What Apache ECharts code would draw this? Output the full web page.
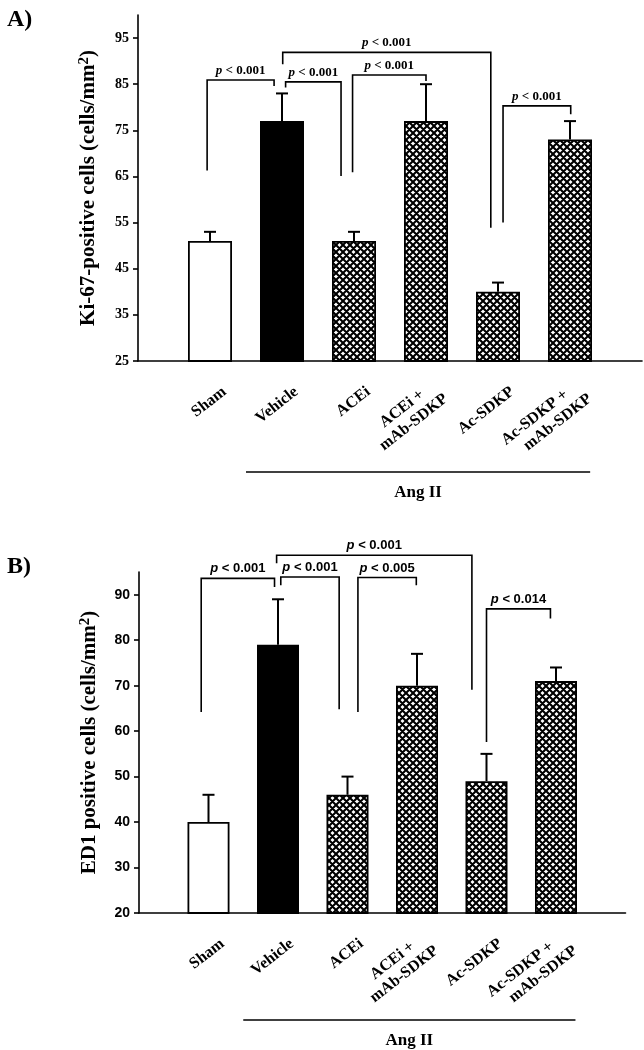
<!DOCTYPE html>
<html><head><meta charset="utf-8">
<script src="https://cdn.jsdelivr.net/npm/echarts@6/dist/echarts.min.js"></script>
<style>html,body{margin:0;padding:0;background:#fff}#c{width:644px;height:1050px}</style>
</head><body><div id="c"></div>
<script>
// ---------- data ----------
const categories = ['Sham', 'Vehicle', 'ACEi', 'ACEi +\nmAb-SDKP', 'Ac-SDKP', 'Ac-SDKP +\nmAb-SDKP'];
const ki67Mean = [51, 77, 51, 77, 40, 73];
const ki67Err  = [2, 6, 2, 8, 2, 4];
const ed1Mean  = [40, 79, 46, 70, 49, 71];
const ed1Err   = [6, 10, 4, 7, 6, 3];
const ki67Ticks = [25, 35, 45, 55, 65, 75, 85, 95];
const ed1Ticks  = [20, 30, 40, 50, 60, 70, 80, 90];
const ki67Title = 'Ki-67-positive cells (cells/mm';
const ed1Title  = 'ED1 positive cells (cells/mm';
// significance brackets: [from, to, top, leftEnd, rightEnd, label]
const ki67Brackets = [
  [-0.04, 0.89, 85.9, 66.3, 84.6, 'p < 0.001'],
  [1.01, 3.90, 91.9, 89.3, 53.9, 'p < 0.001'],
  [1.05, 1.82, 85.5, 84.3, 65.1, 'p < 0.001'],
  [1.98, 3.00, 87.0, 65.9, 85.7, 'p < 0.001'],
  [4.07, 5.01, 80.3, 55.0, 78.5, 'p < 0.001']
];
const ed1Brackets = [
  [-0.105, 0.95, 93.6, 64.2, 91.7, 'p < 0.001'],
  [0.98, 3.79, 98.7, 96.9, 69.1, 'p < 0.001'],
  [1.04, 1.88, 93.9, 92.1, 64.8, 'p < 0.001'],
  [2.15, 2.99, 93.8, 64.2, 92.1, 'p < 0.005'],
  [4.00, 4.92, 86.9, 57.6, 84.8, 'p < 0.014']
];
const groupLabel = 'Ang II';
const groupSpan = [0.5, 5.28];

// ---------- styles ----------
const serif = '"Liberation Serif", "Times New Roman", serif';
const sans = '"Liberation Sans", Arial, sans-serif';
function hatch(size, lw) {
  const c = document.createElement('canvas');
  c.width = c.height = size;
  const g = c.getContext('2d');
  g.fillStyle = '#fff'; g.fillRect(0, 0, size, size);
  g.strokeStyle = '#000'; g.lineWidth = lw;
  g.beginPath();
  for (let k = -1; k <= 1; k++) {
    g.moveTo(-2 + k * size, -2); g.lineTo(size + 2 + k * size, size + 2);
    g.moveTo(size + 2 + k * size, -2); g.lineTo(-2 + k * size, size + 2);
  }
  g.stroke();
  return c;
}
const pat = { image: hatch(7, 2.1), repeat: 'repeat' };
const fills = ['#fff', '#000', pat, pat, pat, pat];

function labelText(i) {
  const lines = (categories[i] || '').split('\n');
  if (lines.length > 1) lines[0] = lines[0] + '\u00a0\u00a0\u00a0\u00a0';
  return lines.join('\n');
}

function xAx(idx) {
  return {
    type: 'value', gridIndex: idx, min: -1, max: 6,
    splitLine: { show: false }, axisTick: { show: false },
    axisLine: { onZero: false, lineStyle: { color: '#000', width: 1.6 } },
    axisLabel: {
      customValues: categories.map((_, i) => i + 0.2),
      formatter: v => labelText(Math.round(v)),
      rotate: 38, margin: 29, color: '#000',
      fontFamily: serif, fontWeight: 'bold', fontSize: 16, lineHeight: 18
    }
  };
}
function yAx(idx, min, max, ticks, title, tickFont) {
  return {
    type: 'value', gridIndex: idx, min: min, max: max,
    splitLine: { show: false },
    axisLine: { show: true, onZero: false, lineStyle: { color: '#000', width: 1.6 } },
    axisTick: { show: true, length: 5, customValues: ticks, lineStyle: { color: '#000', width: 1.6 } },
    axisLabel: { customValues: ticks, margin: 9, color: '#000', fontFamily: tickFont, fontWeight: 'bold', fontSize: 14 },
    name: '{t|' + title + '}{s|2}{t|)}',
    nameLocation: 'middle', nameGap: 37, nameRotate: 90,
    nameTextStyle: {
      rich: {
        t: { fontFamily: serif, fontWeight: 'bold', fontSize: 21, color: '#000', lineHeight: 24 },
        s: { fontFamily: serif, fontWeight: 'bold', fontSize: 15, color: '#000', verticalAlign: 'top', lineHeight: 16 }
      }
    }
  };
}
function barSeries(idx, means, bw) {
  return {
    type: 'bar', xAxisIndex: idx, yAxisIndex: idx, barWidth: bw, z: 2,
    data: means.map((v, i) => ({ value: [i, v], itemStyle: { color: fills[i], borderColor: '#000', borderWidth: 1.8 } }))
  };
}
function errSeries(idx, means, errs) {
  return {
    type: 'custom', xAxisIndex: idx, yAxisIndex: idx, z: 1, clip: false,
    data: means.map((v, i) => [i, v, v + errs[i]]),
    renderItem(params, api) {
      const x = api.value(0);
      const p0 = api.coord([x, api.value(1)]);
      const p1 = api.coord([x, api.value(2)]);
      return { type: 'group', children: [
        { type: 'line', shape: { x1: p0[0], y1: p0[1], x2: p1[0], y2: p1[1] }, style: { stroke: '#000', lineWidth: 2 } },
        { type: 'line', shape: { x1: p1[0] - 6, y1: p1[1], x2: p1[0] + 6, y2: p1[1] }, style: { stroke: '#000', lineWidth: 2 } }
      ] };
    }
  };
}
function bracketSeries(idx, brs, font) {
  return {
    type: 'custom', xAxisIndex: idx, yAxisIndex: idx, z: 4, clip: false,
    data: brs.map(b => b.slice(0, 5)),
    renderItem(params, api) {
      const b = brs[params.dataIndex];
      const a = api.coord([b[0], b[3]]), t1 = api.coord([b[0], b[2]]), t2 = api.coord([b[1], b[2]]), e = api.coord([b[1], b[4]]);
      return { type: 'group', children: [
        { type: 'polyline', shape: { points: [a, t1, t2, e] }, style: { stroke: '#000', lineWidth: 1.6, fill: null } },
        { type: 'text', x: (t1[0] + t2[0]) / 2, y: t1[1] - 3, style: {
          text: '{i|' + b[5][0] + '}{n|' + b[5].slice(1) + '}', align: 'center', verticalAlign: 'bottom',
          rich: {
            i: { fontStyle: 'italic', fontWeight: 'bold', fontFamily: font, fontSize: 13, fill: '#000' },
            n: { fontWeight: 'bold', fontFamily: font, fontSize: 13, fill: '#000' }
          } } }
      ] };
    }
  };
}
function groupSeries(idx, ymin, off) {
  return {
    type: 'custom', xAxisIndex: idx, yAxisIndex: idx, clip: false, z: 4,
    data: [[groupSpan[0], groupSpan[1], ymin]],
    renderItem(params, api) {
      const p1 = api.coord([api.value(0), api.value(2)]), p2 = api.coord([api.value(1), api.value(2)]);
      const y = p1[1] + off;
      return { type: 'group', children: [
        { type: 'line', shape: { x1: p1[0], y1: y, x2: p2[0], y2: y }, style: { stroke: '#000', lineWidth: 1.6 } },
        { type: 'text', x: (p1[0] + p2[0]) / 2, y: y + 12, style: { text: groupLabel, align: 'center', verticalAlign: 'top',
          fontFamily: serif, fontWeight: 'bold', fontSize: 17, fill: '#000' } }
      ] };
    }
  };
}

const chart = echarts.init(document.getElementById('c'));
chart.setOption({
  animation: false,
  backgroundColor: '#fff',
  title: [
    { text: 'A)', left: 2, top: 3, textStyle: { fontFamily: serif, fontWeight: 'bold', fontSize: 24, color: '#000' } },
    { text: 'B)', left: 2, top: 550, textStyle: { fontFamily: serif, fontWeight: 'bold', fontSize: 24, color: '#000' } }
  ],
  grid: [
    { left: 138, top: 15, width: 504, height: 346 },
    { left: 139, top: 572, width: 486.5, height: 341 }
  ],
  xAxis: [xAx(0), xAx(1)],
  yAxis: [
    yAx(0, 25, 100, ki67Ticks, ki67Title, serif),
    yAx(1, 20, 95, ed1Ticks, ed1Title, sans)
  ],
  series: [
    errSeries(0, ki67Mean, ki67Err),
    barSeries(0, ki67Mean, 44),
    bracketSeries(0, ki67Brackets, serif),
    groupSeries(0, 25, 111),
    errSeries(1, ed1Mean, ed1Err),
    barSeries(1, ed1Mean, 42),
    bracketSeries(1, ed1Brackets, sans),
    groupSeries(1, 20, 107)
  ]
});
</script>
</body></html>
